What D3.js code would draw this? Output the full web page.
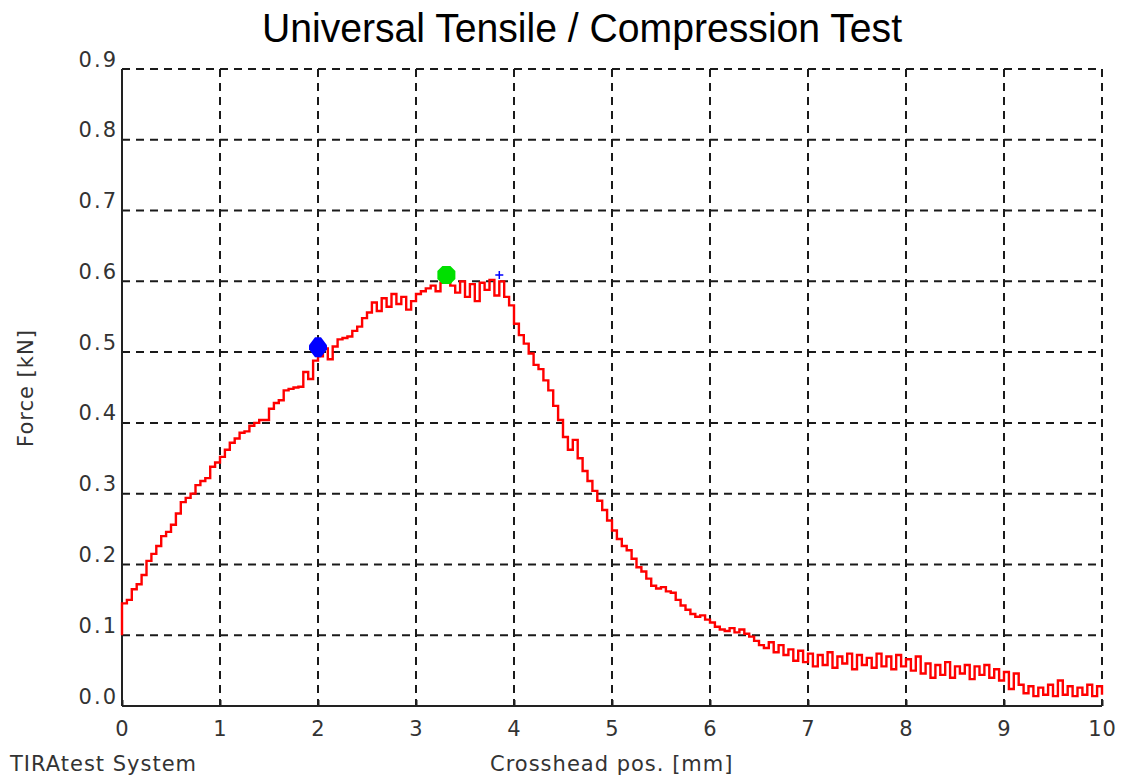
<!DOCTYPE html>
<html>
<head>
<meta charset="utf-8">
<script src="https://cdn.jsdelivr.net/npm/d3@7"></script>
<style>
  html, body { margin: 0; padding: 0; background: #fff; }
  svg { display: block; }
</style>
</head>
<body>
<svg id="chart" width="1124" height="783"></svg>
<script>
// ---- data ----
const xTicks = [0, 1, 2, 3, 4, 5, 6, 7, 8, 9, 10];
const yTicks = [0.0, 0.1, 0.2, 0.3, 0.4, 0.5, 0.6, 0.7, 0.8, 0.9];

const positionMm = [
  0, 0, 0.05, 0.10, 0.15, 0.20, 0.25, 0.30, 0.35, 0.40, 0.45, 0.50, 0.55, 0.60, 0.65, 0.70, 0.75, 0.80, 0.85, 0.90, 0.95,
  1.00, 1.05, 1.10, 1.15, 1.20, 1.25, 1.30, 1.35, 1.40, 1.45, 1.50, 1.55, 1.60, 1.65, 1.70, 1.75, 1.80, 1.85, 1.90, 1.95,
  2.00, 2.05, 2.10, 2.15, 2.20, 2.25, 2.30, 2.35, 2.40, 2.45, 2.50, 2.55, 2.60, 2.65, 2.70, 2.75, 2.80, 2.85, 2.90, 2.95,
  3.00, 3.05, 3.10, 3.15, 3.20, 3.25, 3.30, 3.35, 3.40, 3.45, 3.50, 3.55, 3.60, 3.65, 3.70, 3.75, 3.80, 3.85, 3.90, 3.95,
  4.00, 4.05, 4.10, 4.15, 4.20, 4.25, 4.30, 4.35, 4.40, 4.45, 4.50, 4.55, 4.60, 4.65, 4.70, 4.75, 4.80, 4.85, 4.90, 4.95,
  5.00, 5.05, 5.10, 5.15, 5.20, 5.25, 5.30, 5.35, 5.40, 5.45, 5.50, 5.55, 5.60, 5.65, 5.70, 5.75, 5.80, 5.85, 5.90, 5.95,
  6.00, 6.05, 6.10, 6.15, 6.20, 6.25, 6.30, 6.35, 6.40, 6.45, 6.50, 6.55, 6.60, 6.65, 6.70, 6.75, 6.80, 6.85, 6.90, 6.95,
  7.00, 7.05, 7.10, 7.15, 7.20, 7.25, 7.30, 7.35, 7.40, 7.45, 7.50, 7.55, 7.60, 7.65, 7.70, 7.75, 7.80, 7.85, 7.90, 7.95,
  8.00, 8.05, 8.10, 8.15, 8.20, 8.25, 8.30, 8.35, 8.40, 8.45, 8.50, 8.55, 8.60, 8.65, 8.70, 8.75, 8.80, 8.85, 8.90, 8.95,
  9.00, 9.05, 9.10, 9.15, 9.20, 9.25, 9.30, 9.35, 9.40, 9.45, 9.50, 9.55, 9.60, 9.65, 9.70, 9.75, 9.80, 9.85, 9.90, 9.95,
  10.00
];

const forceKN = [
  0.100, 0.145, 0.150, 0.165, 0.172, 0.185, 0.205, 0.215, 0.226, 0.240, 0.246, 0.256, 0.272, 0.288, 0.294, 0.300, 0.312, 0.318, 0.322, 0.338, 0.344,
  0.352, 0.362, 0.372, 0.378, 0.386, 0.388, 0.396, 0.400, 0.404, 0.404, 0.420, 0.428, 0.432, 0.446, 0.448, 0.450, 0.451, 0.472, 0.462, 0.488,
  0.494, 0.505, 0.490, 0.508, 0.518, 0.520, 0.522, 0.530, 0.536, 0.548, 0.556, 0.570, 0.558, 0.576, 0.564, 0.582, 0.568, 0.578, 0.560, 0.572,
  0.582, 0.586, 0.590, 0.594, 0.586, 0.598, 0.600, 0.594, 0.584, 0.600, 0.578, 0.596, 0.572, 0.598, 0.588, 0.602, 0.580, 0.600, 0.578, 0.566,
  0.540, 0.524, 0.512, 0.498, 0.482, 0.476, 0.460, 0.446, 0.424, 0.404, 0.380, 0.362, 0.376, 0.350, 0.332, 0.318, 0.304, 0.290, 0.277, 0.262, 0.248,
  0.236, 0.226, 0.220, 0.208, 0.196, 0.190, 0.180, 0.170, 0.166, 0.168, 0.162, 0.160, 0.150, 0.142, 0.136, 0.130, 0.126, 0.128, 0.122, 0.118,
  0.112, 0.108, 0.106, 0.110, 0.104, 0.108, 0.102, 0.098, 0.092, 0.086, 0.082, 0.090, 0.076, 0.086, 0.072, 0.080, 0.064, 0.078, 0.062, 0.074,
  0.056, 0.072, 0.058, 0.076, 0.054, 0.070, 0.060, 0.074, 0.052, 0.072, 0.058, 0.068, 0.054, 0.074, 0.056, 0.070, 0.052, 0.072, 0.056, 0.066,
  0.050, 0.070, 0.046, 0.060, 0.040, 0.058, 0.044, 0.062, 0.040, 0.056, 0.046, 0.058, 0.038, 0.056, 0.044, 0.058, 0.040, 0.052, 0.036, 0.048,
  0.024, 0.046, 0.030, 0.018, 0.028, 0.014, 0.026, 0.016, 0.030, 0.014, 0.036, 0.016, 0.028, 0.014, 0.026, 0.016, 0.030, 0.014, 0.028, 0.016,
  0.030
];

// markers: [x, F]
const yieldPoint = [2.0, 0.507];    // blue diamond
const maxPoint = [3.31, 0.609];     // green circle
const breakPoint = [3.85, 0.609];   // blue plus

const title = "Universal Tensile / Compression Test";
const xLabel = "Crosshead pos. [mm]";
const yLabel = "Force [kN]";
const footer = "TIRAtest System";

// ---- layout ----
const svg = d3.select("#chart");
const x = d3.scaleLinear().domain([0, 10]).range([122, 1102]);
const y = d3.scaleLinear().domain([0, 0.9]).range([706, 69]);

const font = "'DejaVu Sans', Verdana, sans-serif";
const gridColor = "#1a1a1a";

svg.append("rect").attr("width", 1124).attr("height", 783).attr("fill", "#fff");

// grid
const grid = svg.append("g");
grid.selectAll("line.h").data(yTicks.filter(d => d > 0)).join("line")
  .attr("x1", x(0)).attr("x2", x(10))
  .attr("y1", d => y(d)).attr("y2", d => y(d))
  .attr("stroke", gridColor).attr("stroke-width", 2)
  .attr("stroke-dasharray", "8,6");
grid.selectAll("line.v").data(xTicks.filter(d => d > 0)).join("line")
  .attr("x1", d => x(d)).attr("x2", d => x(d))
  .attr("y1", y(0.9)).attr("y2", y(0))
  .attr("stroke", gridColor).attr("stroke-width", 2)
  .attr("stroke-dasharray", "8,6");

// axes (solid left & bottom)
const axX = d3.axisBottom(x).tickValues(xTicks).tickSize(6).tickFormat(d3.format("d"));
const axY = d3.axisLeft(y).tickValues(yTicks).tickSize(0).tickFormat(d3.format(".1f"));

const gx = svg.append("g").attr("transform", `translate(0,${y(0)})`).call(axX);
gx.select(".domain").attr("stroke", "#222").attr("stroke-width", 2).attr("d", `M${x(0)},0H${x(10)}`);
gx.selectAll(".tick line").attr("y2", -6).attr("stroke", "#222").attr("stroke-width", 2);
gx.selectAll(".tick text")
  .attr("y", 30).attr("dy", 0)
  .attr("font-family", font).attr("font-size", 21).attr("fill", "#333")
  .attr("letter-spacing", 1);

const gy = svg.append("g").attr("transform", `translate(${x(0)},0)`).call(axY);
gy.select(".domain").attr("stroke", "#222").attr("stroke-width", 2).attr("d", `M0,${y(0.9)}V${y(0)}`);
gy.selectAll(".tick text")
  .attr("x", -4).attr("dy", -3).attr("text-anchor", "end")
  .attr("font-family", font).attr("font-size", 21).attr("fill", "#333")
  .attr("letter-spacing", 2);

// curve
const pts = positionMm.map((p, i) => [p, forceKN[i]]);
const line = d3.line().x(d => x(d[0])).y(d => y(d[1])).curve(d3.curveStepAfter);
svg.append("path").datum(pts)
  .attr("d", line)
  .attr("fill", "none").attr("stroke", "#ff0000").attr("stroke-width", 2.4)
  .attr("stroke-linejoin", "miter");

// markers
svg.append("path")
  .attr("transform", `translate(${x(yieldPoint[0])},${y(yieldPoint[1])})`)
  .attr("d", "M-3,-10L3,-10L9,-2L9,2L3,10L-3,10L-9,2L-9,-2Z")
  .attr("fill", "#0000ff");
svg.append("path")
  .attr("transform", `translate(${x(maxPoint[0])},${y(maxPoint[1])})`)
  .attr("d", "M-4,-9L4,-9L9,-4L9,4L4,9L-4,9L-9,4L-9,-4Z")
  .attr("fill", "#00e000");
svg.append("path")
  .attr("transform", `translate(${x(breakPoint[0])},${y(breakPoint[1])})`)
  .attr("d", "M-4,0H4M0,-4V4")
  .attr("stroke", "#0000ff").attr("stroke-width", 1.5).attr("fill", "none");

// texts
svg.append("text")
  .attr("x", 262).attr("y", 42)
  .attr("textLength", 640).attr("lengthAdjust", "spacingAndGlyphs")
  .attr("font-family", "'Liberation Sans Narrow', 'Liberation Sans', Arial, sans-serif")
  .attr("font-size", 40).attr("fill", "#000")
  .text(title);

svg.append("text")
  .attr("x", 490).attr("y", 771)
  .attr("font-family", font).attr("font-size", 21).attr("fill", "#333")
  .attr("letter-spacing", 1)
  .text(xLabel);

svg.append("text")
  .attr("x", 10).attr("y", 771)
  .attr("font-family", font).attr("font-size", 21).attr("fill", "#333")
  .attr("letter-spacing", 1)
  .text(footer);

svg.append("text")
  .attr("transform", "translate(33,388) rotate(-90)")
  .attr("text-anchor", "middle")
  .attr("font-family", font).attr("font-size", 21).attr("fill", "#333")
  .attr("letter-spacing", 1)
  .text(yLabel);
</script>
</body>
</html>
